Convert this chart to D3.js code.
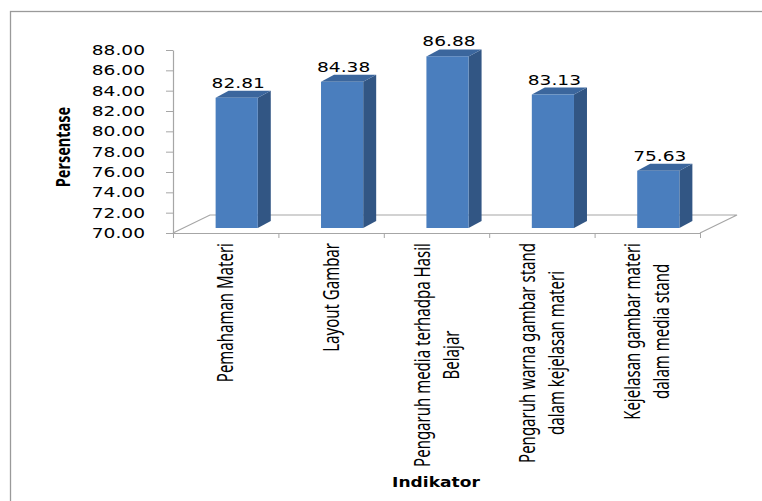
<!DOCTYPE html>
<html>
<head>
<meta charset="utf-8">
<script src="https://cdn.jsdelivr.net/npm/d3@7"></script>
<style>
  body { margin: 0; background: #fff; }
  svg { display: block; }
</style>
</head>
<body>
<div id="chart"></div>
<script>
var categories = ["Pemahaman Materi", "Layout Gambar", "Pengaruh media terhadpa Hasil Belajar",
    "Pengaruh warna gambar stand dalam kejelasan materi", "Kejelasan gambar materi dalam media stand"];
var labelLines = [["Pemahaman Materi"], ["Layout Gambar"], ["Pengaruh media terhadpa Hasil", "Belajar"],
    ["Pengaruh warna gambar stand", "dalam kejelasan materi"], ["Kejelasan gambar materi", "dalam media stand"]];
var values = [82.81, 84.38, 86.88, 83.13, 75.63];
var yTicks = [70, 72, 74, 76, 78, 80, 82, 84, 86, 88];
var yTitle = "Persentase";
var xTitle = "Indikator";

var width = 762, height = 501;
var plotLeft = 173, plotRight = 700, plotTop = 50, plotBottom = 233;
var sx = 1.33;            // the picture is stretched sideways, so is the text
var floorDx = 37, floorDy = -18;
var baseDx = 11, baseDy = -5;   // bars stand a bit into the floor
var depthDx = 13, depthDy = -7;

var svg = d3.select("#chart").append("svg")
    .attr("width", width)
    .attr("height", height);

svg.append("rect")
    .attr("x", 10.5).attr("y", 11.5)
    .attr("width", 900).attr("height", 700)
    .attr("fill", "#fff")
    .attr("stroke", "#9a9a9a")
    .attr("stroke-width", 1.3);

var yScale = d3.scaleLinear().domain([70, 88]).range([plotBottom, plotTop]);
var xBand = d3.scaleBand().domain(categories).range([plotLeft, plotRight]).paddingInner(0.6).paddingOuter(0.3);
var xEdge = d3.scaleLinear().domain([0, categories.length]).range([plotLeft, plotRight]);

// floor
svg.append("path")
    .attr("d", `M${plotLeft},${plotBottom}L${plotLeft + floorDx},${plotBottom + floorDy}L${plotRight + floorDx},${plotBottom + floorDy}L${plotRight},${plotBottom}`)
    .attr("fill", "none")
    .attr("stroke", "#a6a6a6")
    .attr("stroke-width", 1.2);

// bars
var bars = svg.selectAll(".bar")
    .data(values)
    .enter()
    .append("g")
    .attr("class", "bar");

bars.each(function(v, i) {
    var g = d3.select(this);
    var xl = xBand(categories[i]) + baseDx;
    var xr = xl + xBand.bandwidth();
    var yb = yScale(70) + baseDy;
    var yt = yScale(v) + baseDy;
    g.append("polygon")
        .attr("points", [[xr, yb], [xr + depthDx, yb + depthDy], [xr + depthDx, yt + depthDy], [xr, yt]].join(" "))
        .attr("fill", "#325684");
    g.append("polygon")
        .attr("points", [[xl, yt], [xr, yt], [xr + depthDx, yt + depthDy], [xl + depthDx, yt + depthDy]].join(" "))
        .attr("fill", "#3b669d");
    g.append("rect")
        .attr("x", xl).attr("y", yt)
        .attr("width", xr - xl).attr("height", yb - yt)
        .attr("fill", "#4a7ebe");
    g.append("text")
        .attr("transform", `translate(${(xl + xr) / 2 + 1.5},${yt - 10}) scale(${sx},1)`)
        .attr("text-anchor", "middle")
        .attr("font-family", "DejaVu Sans, Verdana, sans-serif")
        .attr("font-size", 14)
        .attr("fill", "#000")
        .text(v.toFixed(2));
});

// y axis
var yAxis = d3.axisLeft(yScale).tickValues(yTicks).tickFormat(d3.format(".2f")).tickSize(7).tickSizeOuter(0);
var yg = svg.append("g")
    .attr("transform", `translate(${plotLeft},0)`)
    .call(yAxis);
yg.select(".domain").attr("stroke", "#a6a6a6").attr("stroke-width", 1.2);
yg.selectAll(".tick line").attr("stroke", "#a6a6a6");
yg.selectAll(".tick text")
    .attr("x", null)
    .attr("dy", "0.32em")
    .attr("transform", `translate(-28,0) scale(${sx},1)`)
    .attr("font-family", "DejaVu Sans, Verdana, sans-serif")
    .attr("font-size", 14)
    .attr("fill", "#000");

// x axis (front edge of the floor)
var xAxis = d3.axisBottom(xEdge).tickValues(d3.range(categories.length + 1)).tickFormat("").tickSize(5).tickSizeOuter(0);
var xg = svg.append("g")
    .attr("transform", `translate(0,${plotBottom})`)
    .call(xAxis);
xg.select(".domain").attr("stroke", "#a6a6a6").attr("stroke-width", 1.2);
xg.selectAll(".tick line").attr("stroke", "#a6a6a6");

// category labels, rotated
var lineGap = 29;
var labelTop = 243;
labelLines.forEach(function(lines, i) {
    var cx = xBand(categories[i]) + xBand.bandwidth() / 2;
    var g = svg.append("g");
    var texts = lines.map(function(line, j) {
        return g.append("text")
            .attr("text-anchor", "middle")
            .attr("font-family", "Noto Sans, Open Sans, sans-serif")
            .attr("font-size", 15)
            .attr("fill", "#000")
            .attr("dy", "0.35em")
            .text(line);
    });
    var maxLen = d3.max(texts, t => t.node().getComputedTextLength());
    texts.forEach(function(t, j) {
        var off = (j - (lines.length - 1) / 2) * lineGap;
        t.attr("transform", `translate(${cx + off},${labelTop + maxLen / 2}) scale(1.45,1) rotate(-90)`);
    });
});

// axis titles
svg.append("text")
    .attr("transform", `translate(63,147) scale(${sx},1) rotate(-90)`)
    .attr("text-anchor", "middle")
    .attr("dy", "0.35em")
    .attr("font-family", "Noto Sans, Open Sans, sans-serif")
    .attr("font-weight", "bold")
    .attr("font-size", 14.5)
    .attr("fill", "#000")
    .text(yTitle);

svg.append("text")
    .attr("transform", `translate(436,487) scale(1.22,1)`)
    .attr("text-anchor", "middle")
    .attr("font-family", "DejaVu Sans, Verdana, sans-serif")
    .attr("font-weight", "bold")
    .attr("font-size", 14)
    .attr("fill", "#000")
    .text(xTitle);
</script>
</body>
</html>
